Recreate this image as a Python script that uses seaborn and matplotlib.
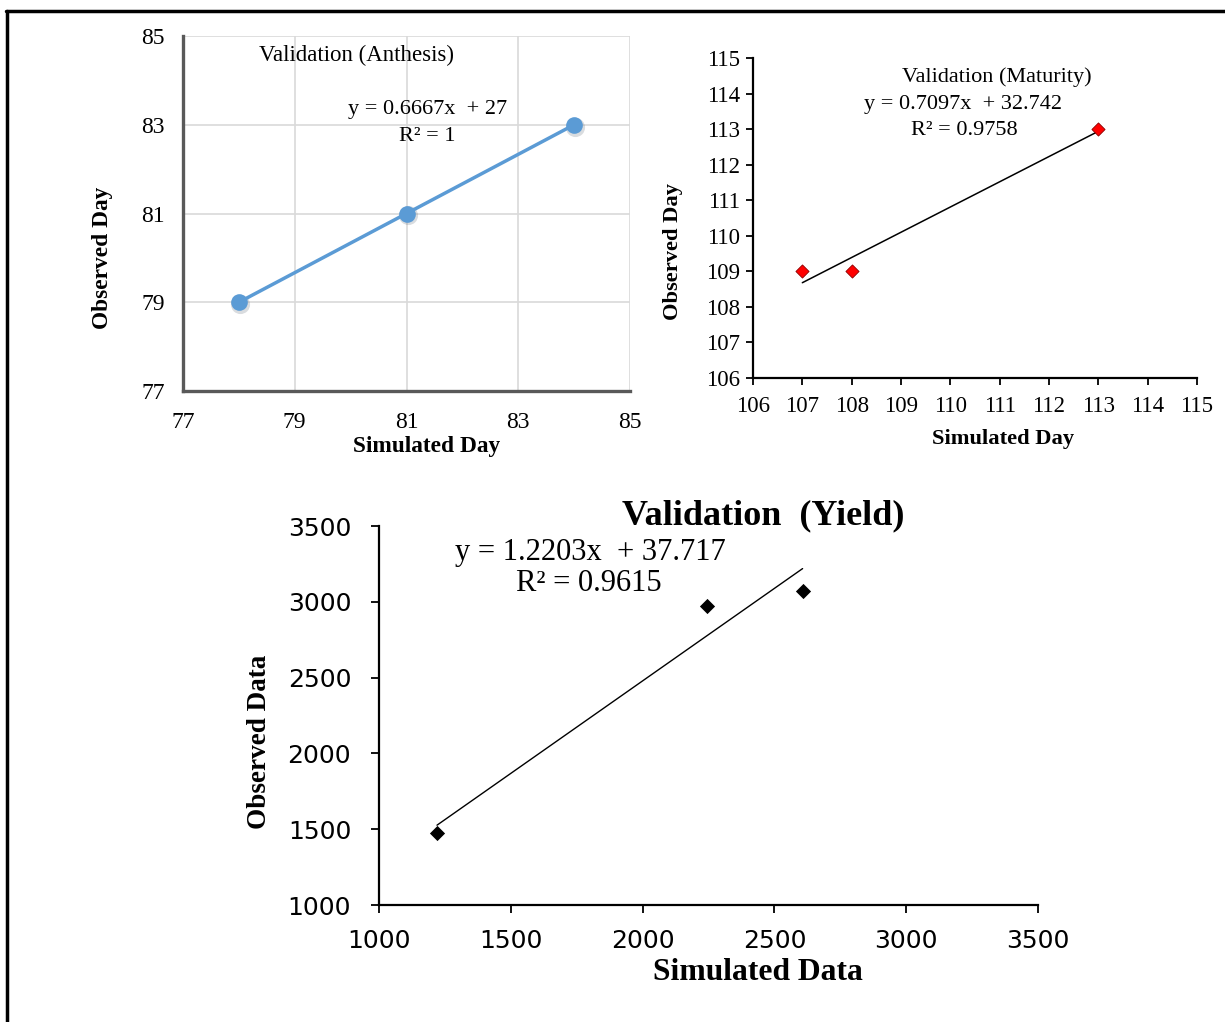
import numpy as np
import pandas as pd
import matplotlib
matplotlib.use("Agg")
import matplotlib.pyplot as plt
import seaborn as sns
from matplotlib.lines import Line2D

# ---------------- data ----------------
anth_sim = [78, 81, 84]
anth_obs = [79, 81, 83]
anth_eq = "y = 0.6667x  + 27"
anth_r2 = "R² = 1"

mat_sim = [107, 108, 113]
mat_obs = [109, 109, 113]
mat_slope, mat_icpt = 0.7097, 32.742
mat_eq = "y = 0.7097x  + 32.742"
mat_r2 = "R² = 0.9758"

yld_sim = [1220, 2246, 2607]
yld_obs = [1475, 2972, 3071]
yld_slope, yld_icpt = 1.2203, 37.717
yld_eq = "y = 1.2203x  + 37.717"
yld_r2 = "R² = 0.9615"

anth_ticks = [77, 79, 81, 83, 85]
mat_ticks = list(range(106, 116))
yld_ticks = [1000, 1500, 2000, 2500, 3000, 3500]

sns.set_theme(style="white")
SERIF = ["Liberation Serif", "DejaVu Serif"]
SANS = ["DejaVu Sans"]
plt.rcParams['font.family'] = SERIF
plt.rcParams['text.color'] = "black"
plt.rcParams['axes.labelcolor'] = "black"
plt.rcParams['xtick.color'] = "black"
plt.rcParams['ytick.color'] = "black"

W, H = 1225, 1022
fig = plt.figure(figsize=(W / 100, H / 100), dpi=100)
fig.patch.set_facecolor("white")

def px_axes(l, t, r, b):
    return fig.add_axes([l / W, 1 - b / H, (r - l) / W, (b - t) / H])

# frame lines around the figure (top and left)
fig.add_artist(Line2D([6 / W, 1.0], [1 - 11 / H, 1 - 11 / H], color="black", lw=2.5, transform=fig.transFigure))
fig.add_artist(Line2D([7 / W, 7 / W], [1 - 11 / H, 0.0], color="black", lw=2.5, transform=fig.transFigure))

# ---------------- panel 1: Anthesis ----------------
ax1 = px_axes(183, 36, 630, 391)
df1 = pd.DataFrame({"sim": anth_sim, "obs": anth_obs})
# faint shadow under markers
ax1.scatter(np.array(anth_sim) + 0.02, np.array(anth_obs) - 0.04, s=190, color="#6b7480", alpha=0.25, zorder=2, linewidths=0)
sns.lineplot(data=df1, x="sim", y="obs", ax=ax1, color="#5B9BD5", lw=2.5,
             marker="o", markersize=12, markeredgewidth=0, zorder=3)
ax1.set_xlim(77, 85)
ax1.set_ylim(77, 85)
ax1.set_xticks(anth_ticks)
ax1.set_yticks(anth_ticks)
ax1.grid(True, color="#D9D9D9", lw=1.2)
for s in ["top", "right"]:
    ax1.spines[s].set_visible(False)
for s in ["left", "bottom"]:
    ax1.spines[s].set_color("#595959")
    ax1.spines[s].set_linewidth(2.4)
ax1.tick_params(axis="both", length=0, labelsize=17, colors="black")
ax1.tick_params(axis="y", pad=13)
ax1.tick_params(axis="x", pad=15)
ax1.set_xlabel("Simulated Day", fontsize=16.8, fontweight="bold")
ax1.set_ylabel("Observed Day", fontsize=16.8, fontweight="bold")
ax1.xaxis.set_label_coords(0.546, -0.155)
ax1.xaxis.label.set_va("center")
ax1.yaxis.set_label_coords(-0.179, 0.375)
ax1.yaxis.label.set_va("center")
ax1.text(0.389, 0.946, "Validation (Anthesis)", transform=ax1.transAxes, ha="center", va="center", fontsize=16.5)
ax1.text(0.548, 0.794, anth_eq, transform=ax1.transAxes, ha="center", va="center", fontsize=16)
ax1.text(0.546, 0.718, anth_r2, transform=ax1.transAxes, ha="center", va="center", fontsize=16)

# ---------------- panel 2: Maturity ----------------
ax2 = px_axes(753, 58, 1197, 378)
df2 = pd.DataFrame({"sim": mat_sim, "obs": mat_obs})
xs2 = np.array([min(mat_sim), max(mat_sim)])
ax2.plot(xs2, mat_slope * xs2 + mat_icpt, color="black", lw=1.1, zorder=2)
sns.scatterplot(data=df2, x="sim", y="obs", ax=ax2, marker="D", s=45,
                color="#FF0000", edgecolor="#8B0000", linewidth=0.6, zorder=3)
ax2.set_xlim(106, 115)
ax2.set_ylim(106, 115)
ax2.set_xticks(mat_ticks)
ax2.set_yticks(mat_ticks)
for s in ["top", "right"]:
    ax2.spines[s].set_visible(False)
for s in ["left", "bottom"]:
    ax2.spines[s].set_color("black")
    ax2.spines[s].set_linewidth(1.6)
ax2.tick_params(axis="both", direction="out", length=5, width=1.3, labelsize=16.5, colors="black",
                bottom=True, left=True)
ax2.tick_params(axis="y", pad=4)
ax2.tick_params(axis="x", pad=8)
ax2.set_xlabel("Simulated Day", fontsize=16.2, fontweight="bold")
ax2.set_ylabel("Observed Day", fontsize=16.2, fontweight="bold")
ax2.xaxis.set_label_coords(0.563, -0.19)
ax2.xaxis.label.set_va("center")
ax2.yaxis.set_label_coords(-0.18, 0.394)
ax2.yaxis.label.set_va("center")
ax2.text(0.55, 0.941, "Validation (Maturity)", transform=ax2.transAxes, ha="center", va="center", fontsize=16)
ax2.text(0.473, 0.856, mat_eq, transform=ax2.transAxes, ha="center", va="center", fontsize=16)
ax2.text(0.475, 0.772, mat_r2, transform=ax2.transAxes, ha="center", va="center", fontsize=16)

# ---------------- panel 3: Yield ----------------
ax3 = px_axes(379, 526, 1038, 905)
df3 = pd.DataFrame({"sim": yld_sim, "obs": yld_obs})
xs3 = np.array([min(yld_sim), max(yld_sim)])
ax3.plot(xs3, yld_slope * xs3 + yld_icpt, color="black", lw=1.0, zorder=2)
sns.scatterplot(data=df3, x="sim", y="obs", ax=ax3, marker="D", s=60,
                color="black", edgecolor="black", linewidth=0, zorder=3)
ax3.set_xlim(1000, 3500)
ax3.set_ylim(1000, 3500)
ax3.set_xticks(yld_ticks)
ax3.set_yticks(yld_ticks)
for s in ["top", "right"]:
    ax3.spines[s].set_visible(False)
for s in ["left", "bottom"]:
    ax3.spines[s].set_color("black")
    ax3.spines[s].set_linewidth(1.6)
ax3.tick_params(axis="both", direction="out", length=6, width=1.3, labelsize=18, colors="black",
                bottom=True, left=True)
for lab in ax3.get_xticklabels() + ax3.get_yticklabels():
    lab.set_family(SANS)
ax3.tick_params(axis="y", pad=14)
ax3.tick_params(axis="x", pad=11)
ax3.set_xlabel("Simulated Data", fontsize=22.8, fontweight="bold")
ax3.set_ylabel("Observed Data", fontsize=19.5, fontweight="bold")
ax3.xaxis.set_label_coords(0.575, -0.177)
ax3.xaxis.label.set_va("center")
ax3.yaxis.set_label_coords(-0.181, 0.43)
ax3.yaxis.label.set_va("center")
ax3.text(0.583, 1.026, "Validation  (Yield)", transform=ax3.transAxes, ha="center", va="center",
         fontsize=26, fontweight="bold")
ax3.text(0.32, 0.929, yld_eq, transform=ax3.transAxes, ha="center", va="center", fontsize=22)
ax3.text(0.319, 0.847, yld_r2, transform=ax3.transAxes, ha="center", va="center", fontsize=22)

fig.savefig("out.png", dpi=100, facecolor="white")
